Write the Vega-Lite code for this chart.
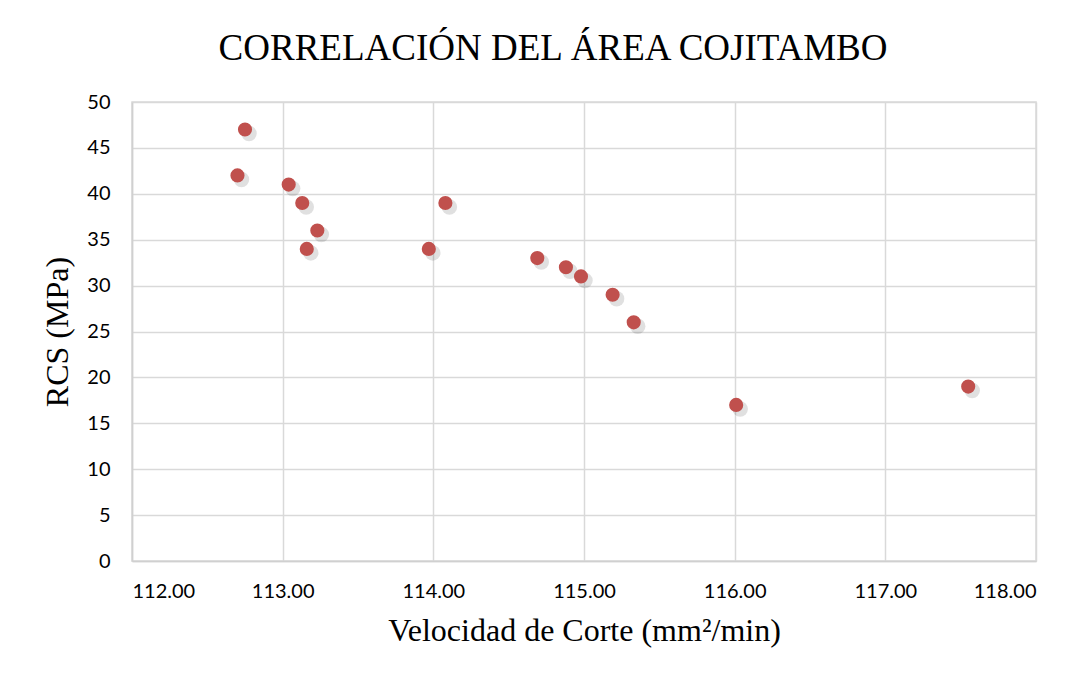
{
  "$schema": "https://vega.github.io/schema/vega-lite/v6.json",
  "width": 904,
  "height": 459,
  "autosize": {"type": "none"},
  "padding": {"left": 132, "top": 102, "right": 51, "bottom": 117},
  "background": "white",
  "title": {
    "text": "CORRELACIÓN DEL ÁREA COJITAMBO",
    "font": "Liberation Serif",
    "fontSize": 37,
    "fontWeight": "normal",
    "color": "#000000",
    "anchor": "middle",
    "dx": -31,
    "offset": 24
  },
  "data": {
    "values": [
      {"v": 112.75, "rcs": 47},
      {"v": 112.70, "rcs": 42},
      {"v": 113.04, "rcs": 41},
      {"v": 113.13, "rcs": 39},
      {"v": 113.23, "rcs": 36},
      {"v": 113.16, "rcs": 34},
      {"v": 113.97, "rcs": 34},
      {"v": 114.08, "rcs": 39},
      {"v": 114.69, "rcs": 33},
      {"v": 114.88, "rcs": 32},
      {"v": 114.98, "rcs": 31},
      {"v": 115.19, "rcs": 29},
      {"v": 115.33, "rcs": 26},
      {"v": 116.01, "rcs": 17},
      {"v": 117.55, "rcs": 19}
    ]
  },
  "encoding": {
    "x": {
      "field": "v",
      "type": "quantitative",
      "scale": {"domain": [112, 118], "nice": false, "zero": false},
      "axis": {
        "title": "Velocidad de Corte (mm²/min)",
        "format": ".2f",
        "values": [112, 113, 114, 115, 116, 117, 118],
        "titleFont": "Liberation Serif",
        "titleFontSize": 32,
        "titleFontWeight": "normal",
        "titleColor": "#000000",
        "titlePadding": 14,
        "labelFont": "Lato",
        "labelFontSize": 20,
        "labelColor": "#000000",
        "labelPadding": 20,
        "ticks": false,
        "domainColor": "#d0d0d0",
        "domainWidth": 1.5,
        "gridColor": "#d9d9d9",
        "gridWidth": 1.5
      }
    },
    "y": {
      "field": "rcs",
      "type": "quantitative",
      "scale": {"domain": [0, 50], "nice": false},
      "axis": {
        "title": "RCS (MPa)",
        "values": [0, 5, 10, 15, 20, 25, 30, 35, 40, 45, 50],
        "titleFont": "Liberation Serif",
        "titleFontSize": 32,
        "titleFontWeight": "normal",
        "titleColor": "#000000",
        "titlePadding": 12,
        "labelFont": "Lato",
        "labelFontSize": 20,
        "labelColor": "#000000",
        "labelPadding": 22,
        "ticks": false,
        "domainColor": "#d0d0d0",
        "domainWidth": 1.5,
        "gridColor": "#d9d9d9",
        "gridWidth": 1.5
      }
    }
  },
  "layer": [
    {
      "mark": {"type": "point", "filled": true, "shape": "circle", "size": 240, "color": "#000000", "opacity": 0.12, "xOffset": 4, "yOffset": 4, "strokeWidth": 0}
    },
    {
      "mark": {"type": "point", "filled": true, "shape": "circle", "size": 200, "color": "#C0504D", "opacity": 1, "strokeWidth": 0}
    }
  ],
  "config": {
    "view": {"stroke": "#d9d9d9", "strokeWidth": 1.5}
  }
}
